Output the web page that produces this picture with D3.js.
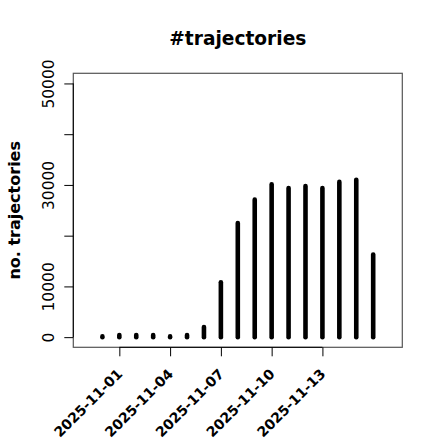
<!DOCTYPE html>
<html>
<head>
<meta charset="utf-8">
<script src="https://cdn.jsdelivr.net/npm/d3@7"></script>
<style>
  html, body { margin: 0; padding: 0; background: #fff; }
  svg { display: block; }
  text { font-family: "DejaVu Sans", sans-serif; }
</style>
</head>
<body>
<script>
const dates = ["2025-10-31","2025-11-01","2025-11-02","2025-11-03","2025-11-04","2025-11-05","2025-11-06","2025-11-07","2025-11-08","2025-11-09","2025-11-10","2025-11-11","2025-11-12","2025-11-13","2025-11-14","2025-11-15","2025-11-16"];
const counts = [150, 400, 400, 400, 150, 400, 2000, 10800, 22500, 27100, 30100, 29400, 29800, 29400, 30600, 31000, 16300];
const yTicks = [0, 10000, 20000, 30000, 40000, 50000];
const yTickLabels = ["0", "10000", "", "30000", "", "50000"];
const xTickLabels = ["2025-11-01","2025-11-04","2025-11-07","2025-11-10","2025-11-13"];
const title = "#trajectories";
const yTitle = "no. trajectories";

const W = 440, H = 440;
const mLeft = 73.3, mRight = 402.3, mTop = 73.3, mBottom = 347.3;
const parse = d3.utcParse("%Y-%m-%d");
const fmt = d3.utcFormat("%Y-%m-%d");

const xData = [parse("2025-10-30").getTime(), parse("2025-11-17").getTime()];
const xPad = (xData[1] - xData[0]) * 0.04;
const x = d3.scaleUtc().domain([new Date(xData[0] - xPad), new Date(xData[1] + xPad)]).range([mLeft, mRight]);
const yPad = 50000 * 0.04;
const y = d3.scaleLinear().domain([0 - yPad, 50000 + yPad]).range([mBottom, mTop]);

const svg = d3.select("body").append("svg").attr("width", W).attr("height", H);

// bars (type = "h")
svg.append("g").selectAll("line").data(dates).join("line")
  .attr("x1", d => x(parse(d))).attr("x2", d => x(parse(d)))
  .attr("y1", y(0)).attr("y2", (d, i) => y(counts[i]))
  .attr("stroke", "#000").attr("stroke-width", 4.6).attr("stroke-linecap", "round");

// box
svg.append("rect").attr("x", mLeft).attr("y", mTop).attr("width", mRight - mLeft).attr("height", mBottom - mTop)
  .attr("fill", "none").attr("stroke", "#555").attr("stroke-width", 1.2);

// y axis
const yAxis = d3.axisLeft(y).tickValues(yTicks).tickSize(9).tickFormat((d, i) => yTickLabels[i]);
const gy = svg.append("g").attr("transform", `translate(${mLeft},0)`).call(yAxis);
gy.select(".domain").attr("d", `M-0,${y(0)}V${y(50000)}`).attr("stroke", "#000");
gy.selectAll(".tick line").attr("stroke", "#000");
gy.selectAll(".tick text")
  .attr("font-family", "DejaVu Sans").attr("font-size", 15.5).attr("fill", "#000")
  .attr("x", null).attr("dy", null)
  .attr("text-anchor", "middle")
  .attr("transform", "translate(-19,0) rotate(-90)");

// x axis
const xTicks = xTickLabels.map(parse);
const xAxis = d3.axisBottom(x).tickValues(xTicks).tickSize(9).tickFormat(d => fmt(d));
const gx = svg.append("g").attr("transform", `translate(0,${mBottom})`).call(xAxis);
gx.select(".domain").attr("d", `M${x(xTicks[0])},0H${x(xTicks[xTicks.length - 1])}`).attr("stroke", "#000");
gx.selectAll(".tick line").attr("stroke", "#000");
gx.selectAll(".tick text")
  .attr("font-family", "DejaVu Sans").attr("font-weight", "bold").attr("font-size", 14).attr("fill", "#000")
  .attr("y", null).attr("dy", "0.35em")
  .attr("text-anchor", "end")
  .attr("transform", "translate(0,24) rotate(-45)");

// title
svg.append("text").attr("x", (mLeft + mRight) / 2).attr("y", 45)
  .attr("text-anchor", "middle").attr("font-weight", "bold").attr("font-size", 18.6)
  .text(title);

// y title
svg.append("text").attr("transform", `translate(20,${(mTop + mBottom) / 2}) rotate(-90)`)
  .attr("text-anchor", "middle").attr("font-weight", "bold").attr("font-size", 16)
  .text(yTitle);
</script>
</body>
</html>
